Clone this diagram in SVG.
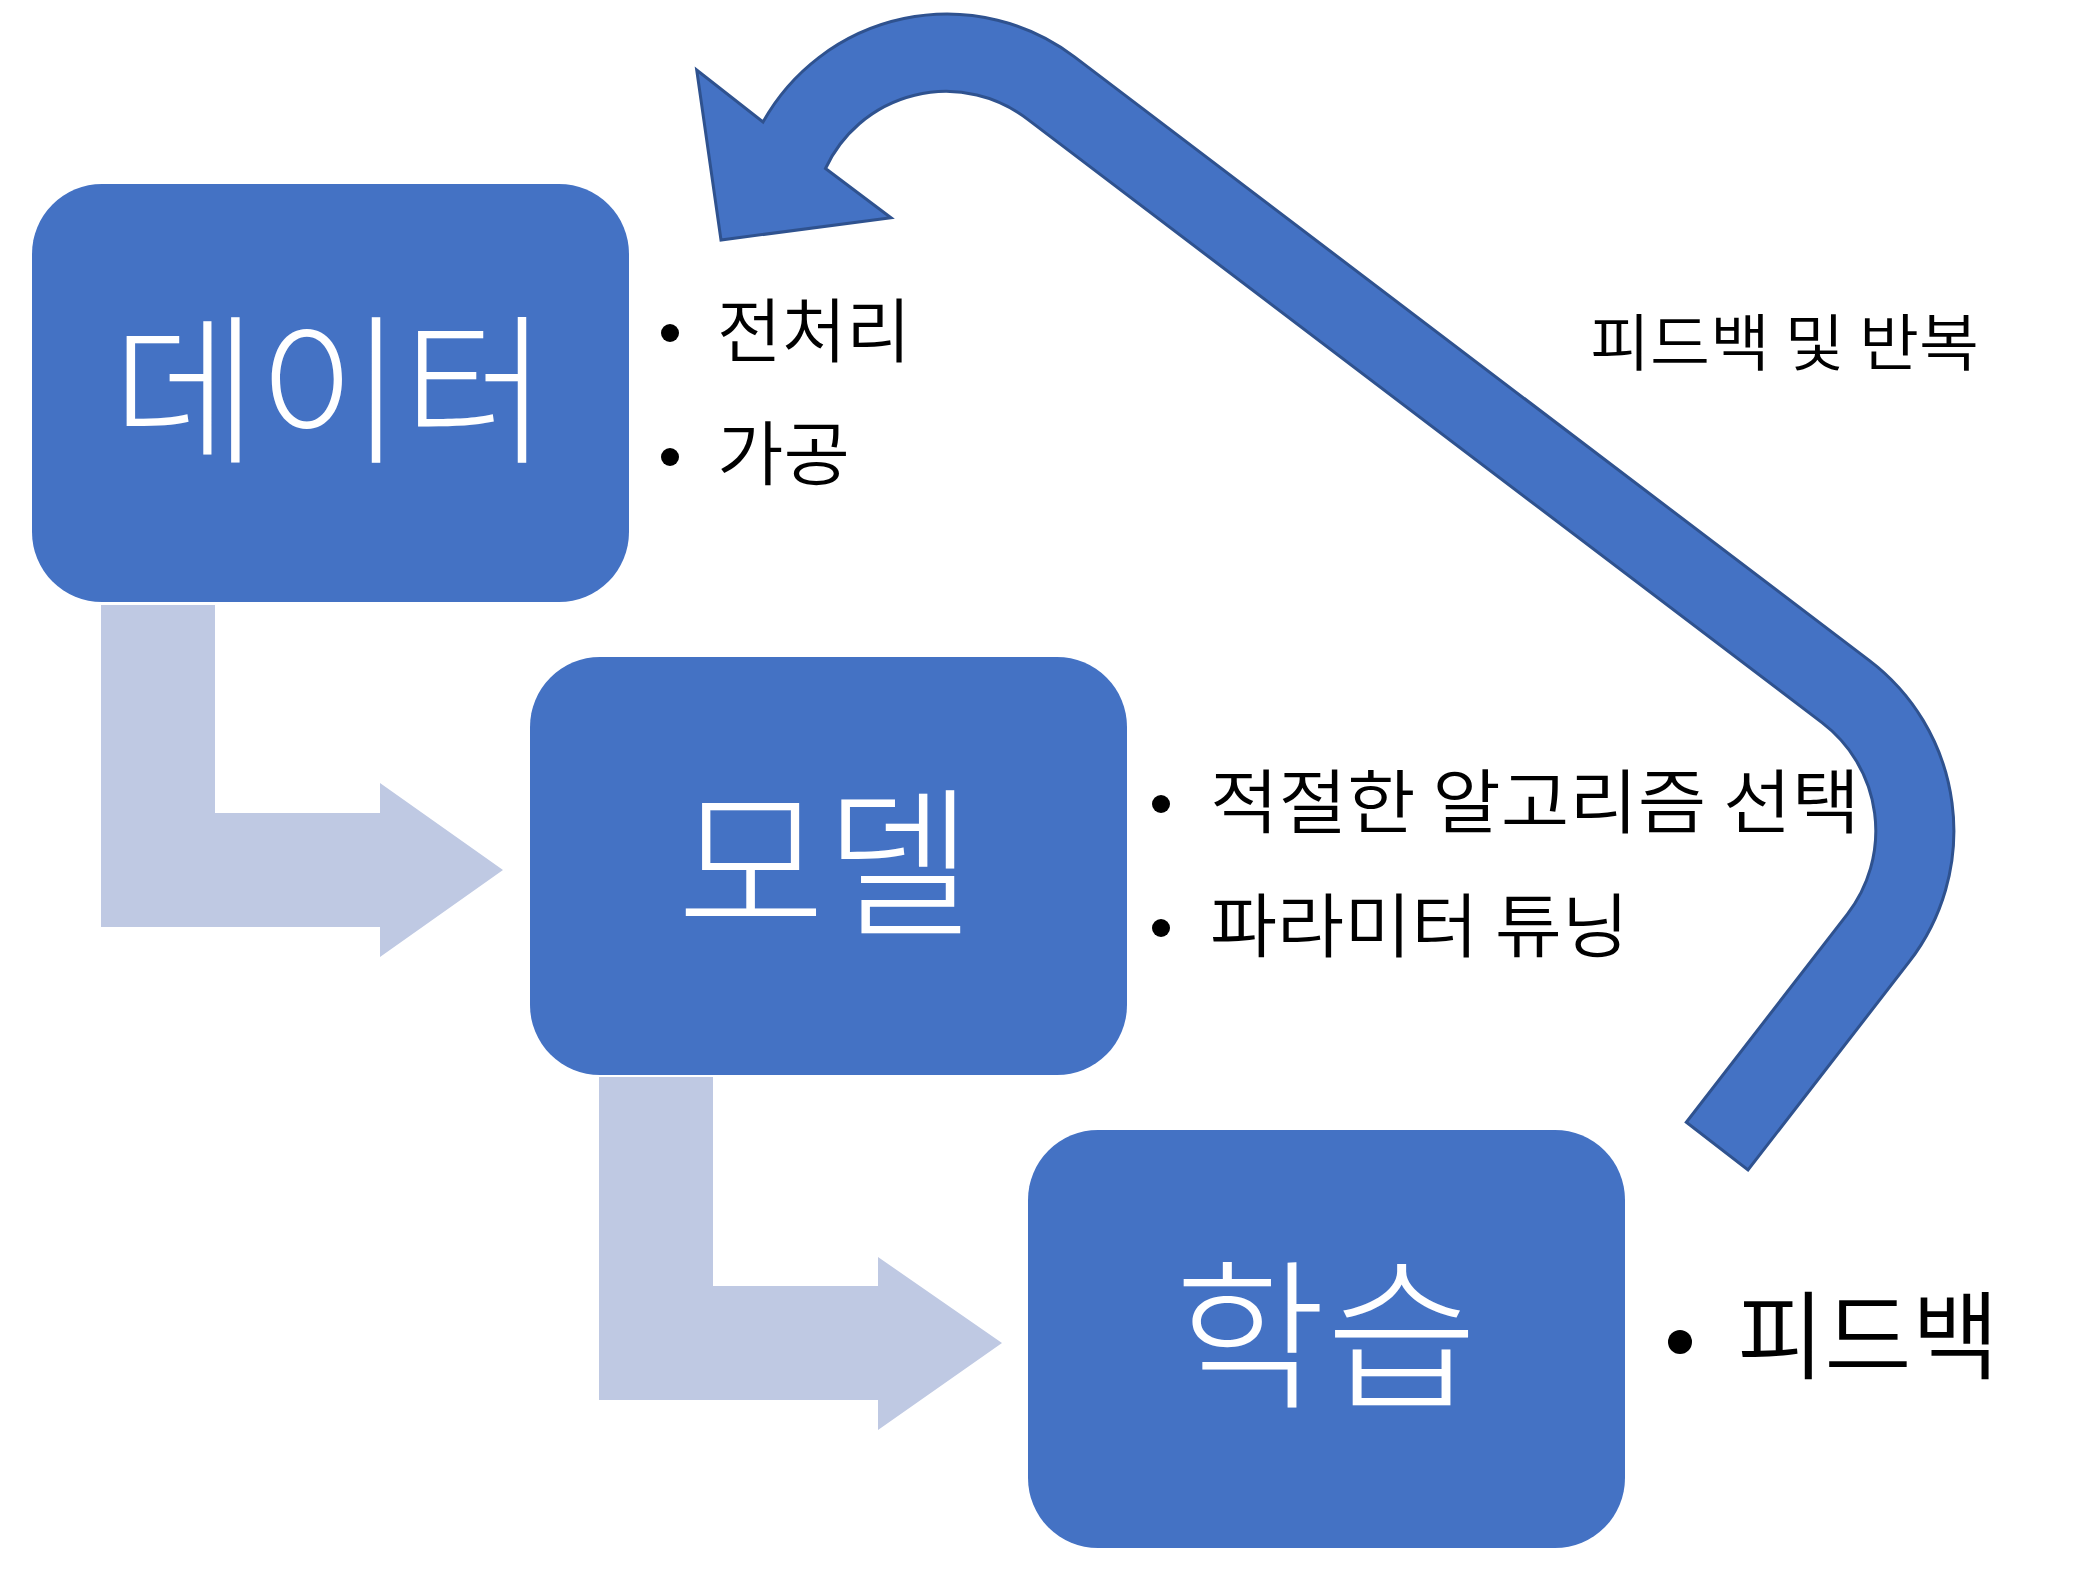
<svg xmlns="http://www.w3.org/2000/svg" width="2095" height="1595" viewBox="0 0 2095 1595">
  <style>
    .box { fill: #4472C4; }
    .flow { fill: #BFC9E3; }
    .loop { fill: #4472C4; stroke: #2F528F; stroke-width: 3; stroke-linejoin: miter; }
    .big { font-family: "Noto Sans CJK KR", "Noto Sans", sans-serif; font-size: 162px; font-weight: 300; fill: #FFFFFF; text-anchor: middle; }
    .item { font-family: "Noto Sans CJK KR", "Noto Sans", sans-serif; font-size: 70px; font-weight: 350; fill: #000000; }
    .note { font-family: "Noto Sans CJK KR", "Noto Sans", sans-serif; font-size: 62px; font-weight: 350; fill: #000000; }
    .item-big { font-family: "Noto Sans CJK KR", "Noto Sans", sans-serif; font-size: 96px; font-weight: 350; fill: #000000; }
    .dot { fill: #000000; }
  </style>
  <rect width="2095" height="1595" fill="#FFFFFF"/>

  <g id="connectors">
    <path id="flow-data-model" class="flow" d="M101 605 L215 605 L215 813 L380 813 L380 783 L503 870 L380 957 L380 927 L101 927 Z"/>
    <path id="flow-model-learn" class="flow" d="M599 1077 L713 1077 L713 1286 L878 1286 L878 1257 L1002 1343 L878 1430 L878 1400 L599 1400 Z"/>
    <path id="loop-feedback" class="loop" d="M763 122 A211 211 0 0 1 1074.5 56.9 L1869.2 660.4 A214 214 0 0 1 1909.1 961.9 L1748 1170 L1686.3 1122.3 L1847.4 914.1 A136 136 0 0 0 1822 722.6 L1027.4 119.1 A133 133 0 0 0 825.5 168.5 L891 217.7 L721 240 L696.7 70 Z"/>
  </g>

  <g id="node-data">
    <rect class="box" x="32" y="184" width="597" height="418" rx="70" ry="70"/>
    <text class="big" x="330" y="451" textLength="436" lengthAdjust="spacingAndGlyphs">데이터</text>
  </g>
  <g id="node-model">
    <rect class="box" x="530" y="657" width="597" height="418" rx="70" ry="70"/>
    <text class="big" x="825" y="924" textLength="296" lengthAdjust="spacingAndGlyphs">모델</text>
  </g>
  <g id="node-learn">
    <rect class="box" x="1028" y="1130" width="597" height="418" rx="70" ry="70"/>
    <text class="big" x="1326" y="1396" textLength="304" lengthAdjust="spacingAndGlyphs">학습</text>
  </g>

  <g id="notes-data">
    <circle class="dot" cx="670" cy="333" r="9"/>
    <text class="item" x="717" y="357" textLength="194" lengthAdjust="spacingAndGlyphs">전처리</text>
    <circle class="dot" cx="670" cy="457" r="9"/>
    <text class="item" x="717" y="480" textLength="133" lengthAdjust="spacingAndGlyphs">가공</text>
  </g>
  <g id="notes-model">
    <circle class="dot" cx="1161" cy="804" r="9"/>
    <text class="item" x="1210" y="828" textLength="650" lengthAdjust="spacingAndGlyphs">적절한 알고리즘 선택</text>
    <circle class="dot" cx="1161" cy="928" r="9"/>
    <text class="item" x="1210" y="952" textLength="419" lengthAdjust="spacingAndGlyphs">파라미터 튜닝</text>
  </g>
  <g id="notes-learn">
    <circle class="dot" cx="1680" cy="1342" r="12"/>
    <text class="item-big" x="1737" y="1371" textLength="262" lengthAdjust="spacingAndGlyphs">피드백</text>
  </g>
  <g id="label-loop">
    <text class="note" x="1590" y="366" textLength="389" lengthAdjust="spacingAndGlyphs">피드백 및 반복</text>
  </g>
</svg>
